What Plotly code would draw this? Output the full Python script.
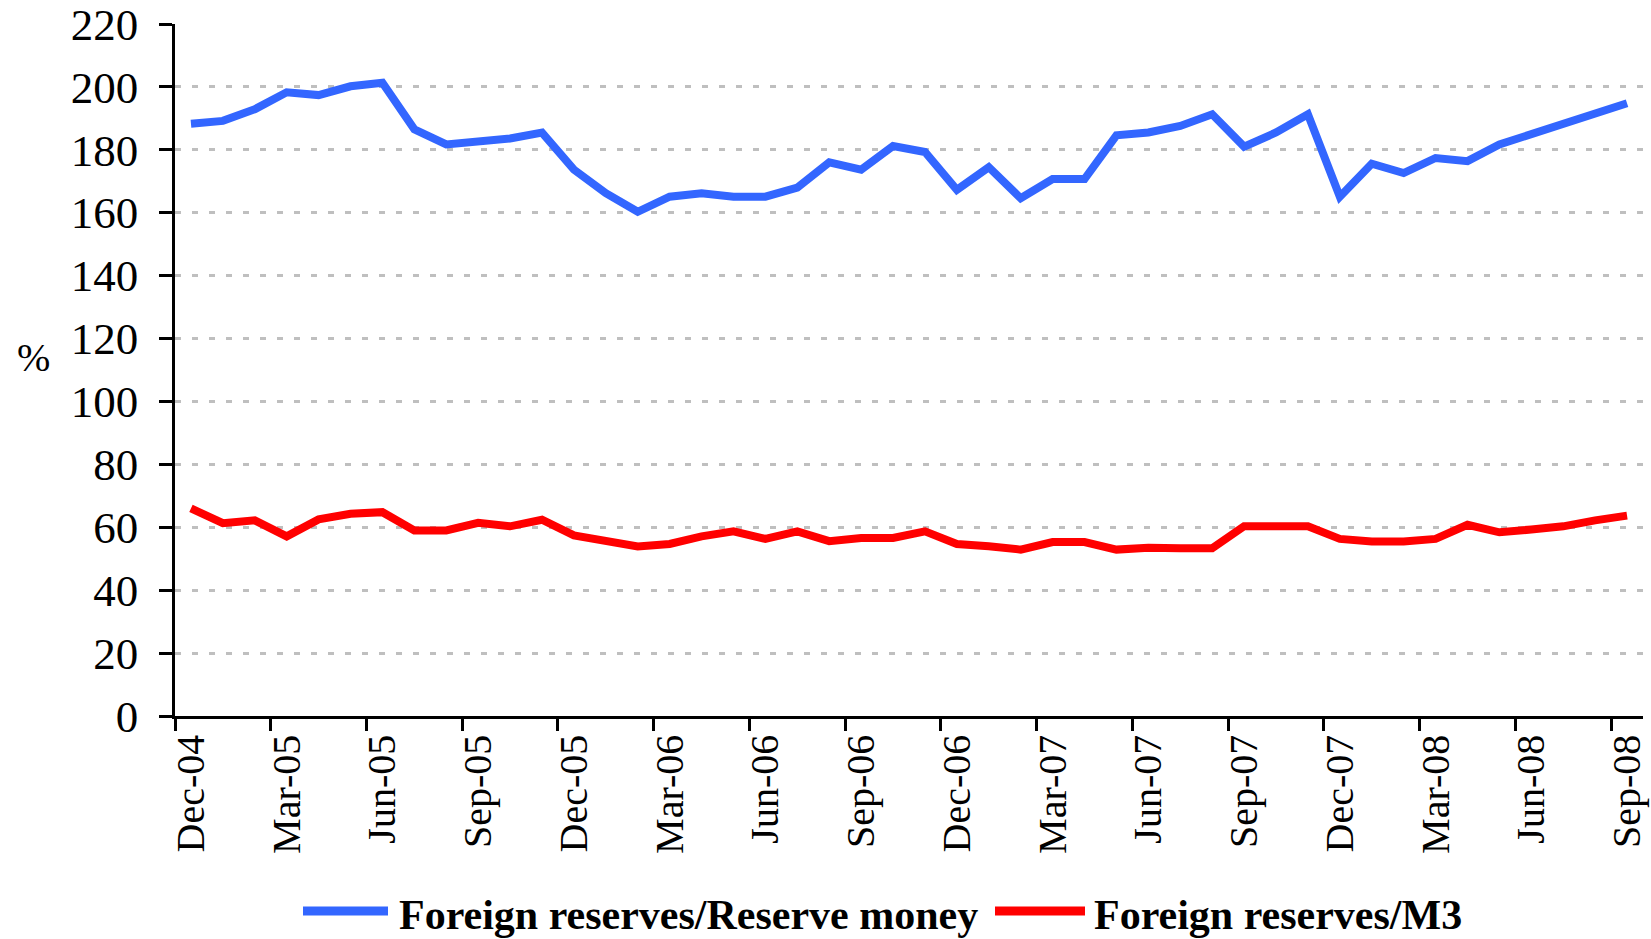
import plotly.graph_objects as go

months = ["Dec-04", "Jan-05", "Feb-05", "Mar-05", "Apr-05", "May-05", "Jun-05", "Jul-05",
          "Aug-05", "Sep-05", "Oct-05", "Nov-05", "Dec-05", "Jan-06", "Feb-06", "Mar-06",
          "Apr-06", "May-06", "Jun-06", "Jul-06", "Aug-06", "Sep-06", "Oct-06", "Nov-06",
          "Dec-06", "Jan-07", "Feb-07", "Mar-07", "Apr-07", "May-07", "Jun-07", "Jul-07",
          "Aug-07", "Sep-07", "Oct-07", "Nov-07", "Dec-07", "Jan-08", "Feb-08", "Mar-08",
          "Apr-08", "May-08", "Jun-08", "Jul-08", "Aug-08", "Sep-08"]

reserve_money = [188.3, 189.2, 192.9, 198.3, 197.4, 200.2, 201.3, 186.5, 181.7, 182.8,
                 183.6, 185.5, 173.7, 166.2, 160.3, 165.1, 166.2, 165.1, 165.1, 168.0,
                 176.0, 173.7, 181.2, 179.3, 167.3, 174.5, 164.6, 170.7, 170.7, 184.6,
                 185.5, 187.6, 191.3, 181.0, 185.5, 191.3, 165.1, 175.6, 172.6, 177.4,
                 176.4, 181.7, 184.9, 188.7, 191.7, 194.8]

m3 = [66.0, 61.3, 62.2, 57.1, 62.5, 64.3, 64.8, 59.0, 59.0, 61.4,
      60.3, 62.4, 57.4, 55.6, 53.9, 54.7, 57.1, 58.7, 56.3, 58.7,
      55.6, 56.6, 56.6, 58.7, 54.7, 54.0, 52.9, 55.3, 55.3, 52.9,
      53.5, 53.3, 53.3, 60.3, 60.3, 60.3, 56.3, 55.5, 55.5, 56.3,
      60.8, 58.4, 59.3, 60.3, 62.2, 63.7]

series_names = ["Foreign reserves/Reserve money", "Foreign reserves/M3"]
series_colors = ["#3366FF", "#FF0000"]

yticks = list(range(0, 221, 20))

W, H = 1651, 939
L, R, T, B = 175, 8, 24, 223
PW, PH = W - L - R, H - T - B

def px_x(p):
    return (p - L) / PW

def px_y(p):
    return (H - B - p) / PH

x = list(range(len(months)))
label_idx = x[::3]

FONT = "Liberation Serif, Times New Roman, serif"

fig = go.Figure()
for vals, name, col in zip([reserve_money, m3], series_names, series_colors):
    fig.add_trace(go.Scatter(x=x, y=vals, mode="lines", name=name,
                             line=dict(color=col, width=8), showlegend=False))

fig.update_layout(
    width=W, height=H,
    margin=dict(l=L, r=R, t=T, b=B, autoexpand=False),
    paper_bgcolor="white", plot_bgcolor="white",
    font=dict(family=FONT, color="black"),
    xaxis=dict(
        range=[-0.5, len(months) - 0.5], automargin=False, ticklabeloverflow="allow",
        tickmode="array", tickvals=label_idx, ticktext=[months[i] for i in label_idx],
        tickangle=-90, ticks="", showgrid=False, zeroline=False,
        tickfont=dict(size=40, family=FONT),
        showline=True, linecolor="black", linewidth=2.5,
        minor=dict(tickmode="array", tickvals=[i - 0.5 for i in label_idx],
                   ticks="outside", ticklen=12, tickwidth=2.5, tickcolor="black",
                   showgrid=False),
    ),
    yaxis=dict(
        range=[0, 220], tickmode="array", tickvals=yticks, automargin=False,
        ticklabeloverflow="allow",
        ticks="outside", ticklen=13, tickwidth=2.5, tickcolor="black",
        showline=True, linecolor="black", linewidth=2.5,
        showgrid=True, gridcolor="#BFBFBF", gridwidth=3, griddash="6px,11px",
        zeroline=False, tickfont=dict(size=45, family=FONT),
        ticklabelstandoff=12,
    ),
)

# y-axis unit label
fig.add_annotation(x=px_x(33), y=px_y(358), xref="paper", yref="paper", text="%",
                   showarrow=False, font=dict(size=40, family=FONT),
                   xanchor="center", yanchor="middle")

# legend drawn below the plot
legend_items = [(303, 388, 397), (995, 1085, 1092)]
for (x0, x1, xt), name, col in zip(legend_items, series_names, series_colors):
    fig.add_shape(type="line", xref="paper", yref="paper",
                  x0=px_x(x0), x1=px_x(x1), y0=px_y(911), y1=px_y(911),
                  line=dict(color=col, width=9))
    fig.add_annotation(x=px_x(xt), y=px_y(915), xref="paper", yref="paper",
                       text="<b>" + name + "</b>", showarrow=False,
                       font=dict(size=42, family=FONT),
                       xanchor="left", yanchor="middle")

fig.write_html("out.html", config={"displayModeBar": False},
               post_script="document.body.style.margin='0';document.body.style.overflow='hidden';")
